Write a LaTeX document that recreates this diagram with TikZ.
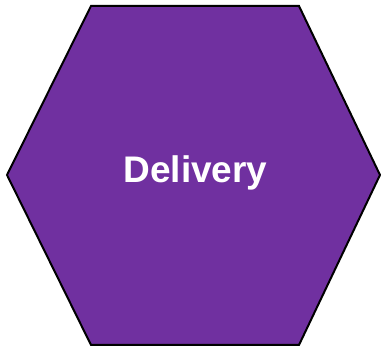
\documentclass[tikz,border=0pt]{standalone}
\usepackage{fontspec}
\setmainfont{Liberation Sans}
\begin{document}
\begin{tikzpicture}[x=1pt,y=1pt,
  hexshape/.style={draw=black, line width=2pt, line join=miter, fill=hexpurple},
  hexlabel/.style={text=white, font=\fontsize{37}{42}\selectfont\bfseries}]
\definecolor{hexpurple}{HTML}{7030A0}
\useasboundingbox (0,0) rectangle (381,352);
\draw[hexshape] (91,346) -- (299,346) -- (380,177) -- (299,7) -- (91,7) -- (7,177) -- cycle;
\node[hexlabel, inner sep=0pt, anchor=base] (lbl) at (195.5,169) {Delivery};
\end{tikzpicture}
\end{document}
